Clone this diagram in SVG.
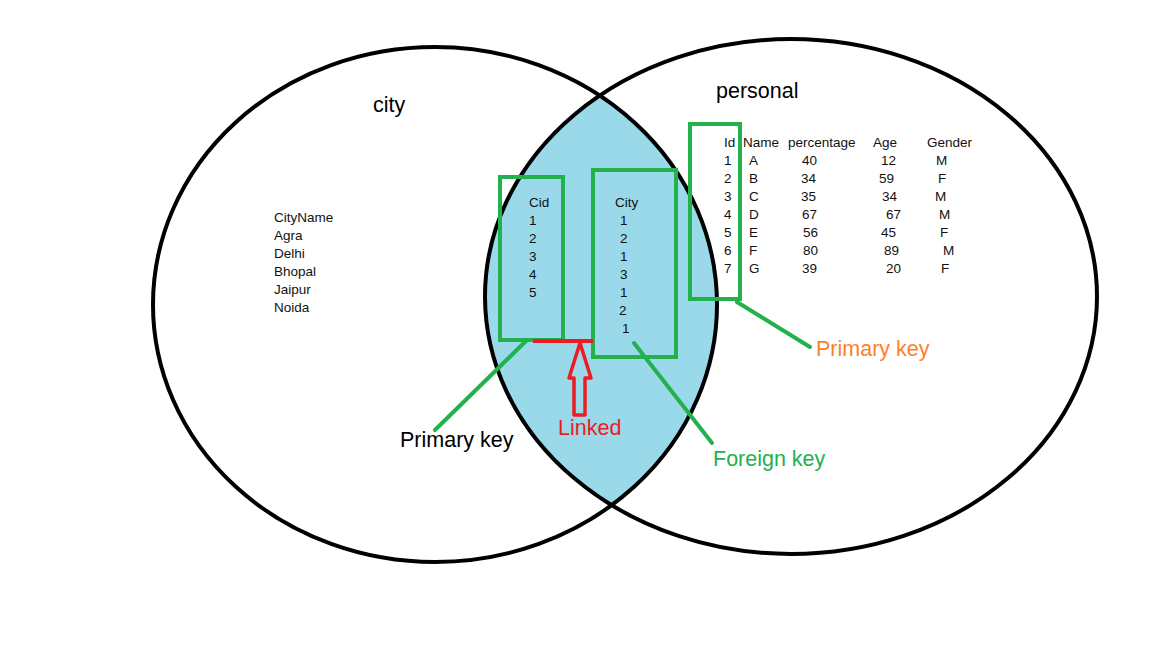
<svg xmlns="http://www.w3.org/2000/svg" width="1152" height="648" viewBox="0 0 1152 648">
<style>
.e{fill:none;stroke:#000;stroke-width:4}
.g{fill:none;stroke:#22B14C;stroke-width:4}
.gl{stroke:#22B14C;stroke-width:4;stroke-linecap:round}
.t{font-family:"Liberation Sans",Arial,sans-serif;font-size:13.5px;fill:#111}
.b{font-family:"Liberation Sans",Arial,sans-serif;font-size:21.5px}
</style>
<defs>
<clipPath id="leftClip"><ellipse cx="435" cy="304.5" rx="282" ry="257.5"/></clipPath>
</defs>
<rect width="1152" height="648" fill="#fff"/>
<g id="lens"><ellipse cx="791" cy="296.5" rx="306" ry="257.5" fill="#99D9EA" clip-path="url(#leftClip)"/></g>
<g id="city-set"><ellipse class="e" cx="435" cy="304.5" rx="282" ry="257.5"/>
<text class="b" x="373" y="112" fill="#000">city</text></g>
<g id="personal-set"><ellipse class="e" cx="791" cy="296.5" rx="306" ry="257.5"/>
<text class="b" x="716" y="98" fill="#000">personal</text></g>
<g id="citynames">
<text class="t" x="274" y="222">CityName</text>
<text class="t" x="274" y="240">Agra</text>
<text class="t" x="274" y="258">Delhi</text>
<text class="t" x="274" y="276">Bhopal</text>
<text class="t" x="274" y="294">Jaipur</text>
<text class="t" x="274" y="312">Noida</text>
</g>
<g id="cid-box"><rect class="g" x="500" y="177" width="63" height="163"/>
<text class="t" x="529" y="207">Cid</text>
<text class="t" x="529" y="225">1</text>
<text class="t" x="529" y="243">2</text>
<text class="t" x="529" y="261">3</text>
<text class="t" x="529" y="279">4</text>
<text class="t" x="529" y="297">5</text>
</g>
<g id="city-box"><rect class="g" x="593" y="170" width="83" height="187"/>
<text class="t" x="615" y="207">City</text>
<text class="t" x="620" y="225">1</text>
<text class="t" x="620" y="243">2</text>
<text class="t" x="620" y="261">1</text>
<text class="t" x="620" y="279">3</text>
<text class="t" x="620" y="297">1</text>
<text class="t" x="619" y="315">2</text>
<text class="t" x="622" y="333">1</text>
</g>
<g id="id-box"><rect class="g" x="690" y="124" width="50" height="175"/></g>
<g id="personal-table">
<text class="t" x="724" y="147">Id</text><text class="t" x="743" y="147">Name</text><text class="t" x="788" y="147">percentage</text><text class="t" x="873" y="147">Age</text><text class="t" x="927" y="147">Gender</text>
<text class="t" x="724" y="165">1</text><text class="t" x="749" y="165">A</text><text class="t" x="802" y="165">40</text><text class="t" x="881" y="165">12</text><text class="t" x="936" y="165">M</text>
<text class="t" x="724" y="183">2</text><text class="t" x="749" y="183">B</text><text class="t" x="801" y="183">34</text><text class="t" x="879" y="183">59</text><text class="t" x="938" y="183">F</text>
<text class="t" x="724" y="201">3</text><text class="t" x="749" y="201">C</text><text class="t" x="801" y="201">35</text><text class="t" x="882" y="201">34</text><text class="t" x="935" y="201">M</text>
<text class="t" x="724" y="219">4</text><text class="t" x="749" y="219">D</text><text class="t" x="802" y="219">67</text><text class="t" x="886" y="219">67</text><text class="t" x="939" y="219">M</text>
<text class="t" x="724" y="237">5</text><text class="t" x="749" y="237">E</text><text class="t" x="803" y="237">56</text><text class="t" x="881" y="237">45</text><text class="t" x="940" y="237">F</text>
<text class="t" x="724" y="255">6</text><text class="t" x="749" y="255">F</text><text class="t" x="803" y="255">80</text><text class="t" x="884" y="255">89</text><text class="t" x="943" y="255">M</text>
<text class="t" x="724" y="273">7</text><text class="t" x="749" y="273">G</text><text class="t" x="802" y="273">39</text><text class="t" x="886" y="273">20</text><text class="t" x="941" y="273">F</text>
</g>
<g id="connectors">
<line class="gl" x1="527" y1="340" x2="435" y2="430"/>
<line class="gl" x1="634" y1="343" x2="712" y2="443"/>
<line class="gl" x1="737" y1="302" x2="810" y2="347"/>
<line x1="533" y1="341" x2="593" y2="341" stroke="#ED1C24" stroke-width="4"/>
<polygon points="580,343 591,378 585,378 585,415 574,415 574,378 569,378" fill="none" stroke="#ED1C24" stroke-width="3.5" stroke-linejoin="round"/>
</g>
<g id="labels">
<text class="b" x="400" y="447" fill="#000">Primary key</text>
<text class="b" x="558" y="435" fill="#ED1C24">Linked</text>
<text class="b" x="713" y="466" fill="#22B14C">Foreign key</text>
<text class="b" x="816" y="356" fill="#FF7F27">Primary key</text>
</g>
</svg>
